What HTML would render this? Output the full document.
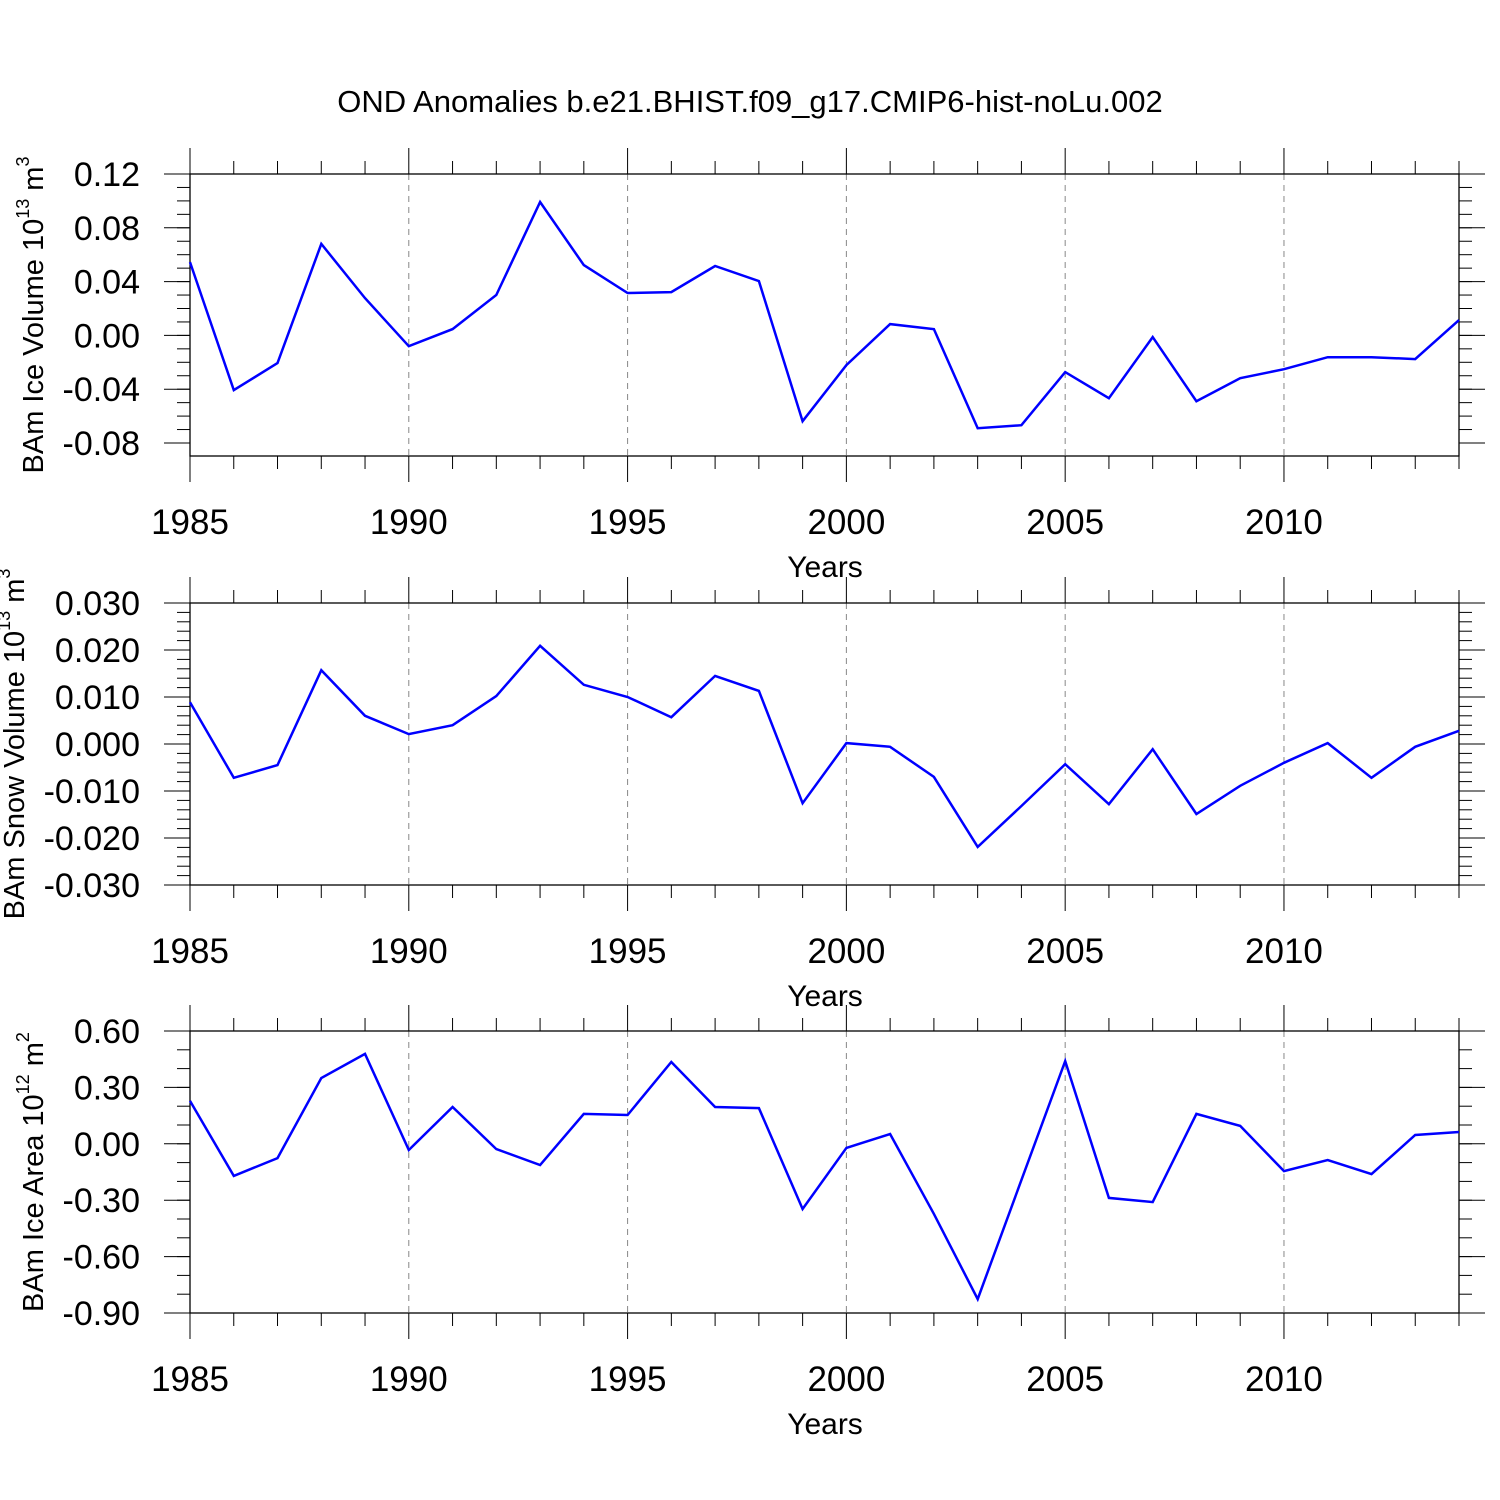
<!DOCTYPE html>
<html><head><meta charset="utf-8"><style>
html,body{margin:0;padding:0;background:#fff;}
svg{display:block;font-family:"Liberation Sans",Arial,sans-serif;}
</style></head><body>
<svg id="chart" width="1500" height="1500" viewBox="0 0 1500 1500">
<text x="750" y="112" text-anchor="middle" font-size="31">OND Anomalies b.e21.BHIST.f09_g17.CMIP6-hist-noLu.002</text>
</svg>
<script>
const years = [1985,1986,1987,1988,1989,1990,1991,1992,1993,1994,1995,1996,1997,1998,1999,2000,2001,2002,2003,2004,2005,2006,2007,2008,2009,2010,2011,2012,2013,2014];
const iceVolume = [0.0545,-0.0407,-0.0206,0.068,0.0277,-0.008,0.0047,0.03,0.0992,0.0523,0.0315,0.0322,0.0516,0.0404,-0.0638,-0.0221,0.0084,0.0047,-0.069,-0.0668,-0.0273,-0.0467,-0.0013,-0.0489,-0.0318,-0.0251,-0.0162,-0.0162,-0.0176,0.0114];
const snowVolume = [0.0089,-0.0072,-0.0045,0.0157,0.006,0.0021,0.004,0.0102,0.0209,0.0126,0.01,0.0057,0.0145,0.0113,-0.0126,0.0002,-0.0006,-0.007,-0.0219,-0.0132,-0.0043,-0.0128,-0.0011,-0.0149,-0.0089,-0.004,0.0002,-0.0072,-0.0006,0.0028];
const iceArea = [0.228,-0.171,-0.076,0.35,0.478,-0.033,0.196,-0.028,-0.113,0.159,0.153,0.435,0.196,0.19,-0.347,-0.022,0.052,-0.373,-0.826,-0.193,0.44,-0.288,-0.31,0.159,0.095,-0.145,-0.086,-0.161,0.047,0.063];
const xTickLabels = [1985,1990,1995,2000,2005,2010];
const volTicks = ["0.12","0.08","0.04","0.00","-0.04","-0.08"];
const snowTicks = ["0.030","0.020","0.010","0.000","-0.010","-0.020","-0.030"];
const areaTicks = ["0.60","0.30","0.00","-0.30","-0.60","-0.90"];

const svg = document.getElementById('chart');
const NS = 'http://www.w3.org/2000/svg';
const X0 = 190, X1 = 1459;
function xs(yr){ return X0 + (yr-1985)*(X1-X0)/29; }
function mk(tag, attrs, parent){
  const e = document.createElementNS(NS, tag);
  for (const k in attrs) e.setAttribute(k, attrs[k]);
  (parent||svg).appendChild(e); return e;
}
const panels = [
  {name:'ice-volume', top:174, bot:456, vmax:0.12, vmin:-0.08-13/1344, ticks:volTicks, minor:0.01, data:iceVolume, tx:43, t1:'BAm Ice Volume 10', sup:'13', t2:' m', sup2:'3'},
  {name:'snow-volume', top:603, bot:885, vmax:0.03, vmin:-0.03, ticks:snowTicks, minor:0.002, data:snowVolume, tx:24, t1:'BAm Snow Volume 10', sup:'13', t2:' m', sup2:'3'},
  {name:'ice-area', top:1031, bot:1313, vmax:0.6, vmin:-0.9, ticks:areaTicks, minor:0.1, data:iceArea, tx:43, t1:'BAm Ice Area 10', sup:'12', t2:' m', sup2:'2'}
];
panels.forEach(p=>{
  const g = mk('g',{});
  
  
  const ys = v => p.top + (p.vmax - v)*(p.bot-p.top)/(p.vmax-p.vmin);
  xTickLabels.slice(1).forEach(yr=>{
    const l = mk('line',{x1:xs(yr),x2:xs(yr),y1:p.top,y2:p.bot,stroke:'#888','stroke-width':1,'stroke-dasharray':'6,5'},g);
    
    
  });
  const box = mk('rect',{x:X0,y:p.top,width:X1-X0,height:p.bot-p.top,fill:'none',stroke:'#000','stroke-width':1.3},g);
  
  
  for (let yr=1985; yr<=2014; yr++){
    const major = (yr-1985)%5===0;
    const len = major?26:13;
    mk('line',{x1:xs(yr),x2:xs(yr),y1:p.top-len,y2:p.top,stroke:'#000','stroke-width':1},g);
    mk('line',{x1:xs(yr),x2:xs(yr),y1:p.bot,y2:p.bot+len,stroke:'#000','stroke-width':1},g);
  }
  xTickLabels.forEach(yr=>{
    const t = mk('text',{x:xs(yr),y:p.bot+78,'text-anchor':'middle','font-size':35},g);
    t.textContent = yr;
    
    
  });
  const xt = mk('text',{x:825,y:p.bot+121,'text-anchor':'middle','font-size':30},g);
  xt.textContent = 'Years';
  
  
  const nMinor = Math.round((p.vmax-p.vmin)/p.minor+0.5);
  for (let i=0;i<=nMinor;i++){
    const v = p.vmax - i*p.minor;
    if (v < p.vmin-1e-9) break;
    const y = ys(v);
    mk('line',{x1:X0-13,x2:X0,y1:y,y2:y,stroke:'#000','stroke-width':1},g);
    mk('line',{x1:X1,x2:X1+13,y1:y,y2:y,stroke:'#000','stroke-width':1},g);
  }
  p.ticks.forEach(lbl=>{
    const y = ys(parseFloat(lbl));
    mk('line',{x1:X0-26,x2:X0,y1:y,y2:y,stroke:'#000','stroke-width':1},g);
    mk('line',{x1:X1,x2:X1+26,y1:y,y2:y,stroke:'#000','stroke-width':1},g);
    const t = mk('text',{x:140,y:y+12,'text-anchor':'end','font-size':34},g);
    t.textContent = lbl;
    
    
  });
  const cy = (p.top+p.bot)/2;
  const yt = mk('text',{x:0,y:0,'text-anchor':'middle','font-size':29,transform:`translate(${p.tx},${cy}) rotate(-90)`},g);
  
  
  const a = mk('tspan',{},yt); a.textContent = p.t1;
  const b = mk('tspan',{'font-size':18,dy:-14},yt); b.textContent = p.sup;
  const c = mk('tspan',{dy:14},yt); c.textContent = p.t2;
  const d = mk('tspan',{'font-size':18,dy:-14},yt); d.textContent = p.sup2;
  const pts = p.data.map((v,i)=>xs(years[i]).toFixed(1)+','+ys(v).toFixed(1)).join(' ');
  const pl = mk('polyline',{points:pts,fill:'none',stroke:'#0000ff','stroke-width':2.5,'stroke-linejoin':'miter'},g);
  
  
});
</script>
</body></html>
